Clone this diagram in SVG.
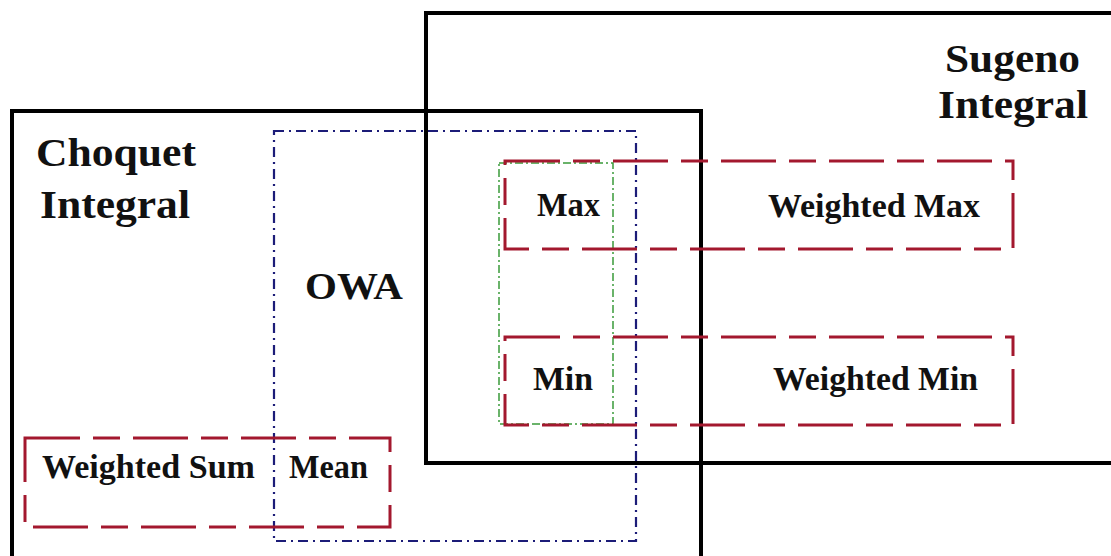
<svg xmlns="http://www.w3.org/2000/svg" width="1111" height="556" viewBox="0 0 1111 556">
<style>
.solid{fill:none;stroke:#000;stroke-width:4}
.owa{fill:none;stroke:#1c1c78;stroke-width:2.2;stroke-dasharray:10 5 2 5}
.grn{fill:none;stroke:#3a9a3a;stroke-width:1.5;stroke-dasharray:8 3 2 3}
.red{fill:none;stroke:#a3182e;stroke-width:3;stroke-dasharray:55 13 27 13}
text{font-family:"Liberation Serif","Times New Roman",serif;font-weight:bold;fill:#111}
.big{font-size:40px}
.mid{font-size:38px}
.sm{font-size:33px}
</style>
<rect width="1111" height="556" fill="#fff"/>
<g id="choquet">
<rect class="solid" x="12" y="111" width="689" height="470"/>
<text class="big" x="36" y="166" textLength="160" lengthAdjust="spacingAndGlyphs">Choquet</text>
<text class="big" x="40" y="218" textLength="150" lengthAdjust="spacingAndGlyphs">Integral</text>
</g>
<g id="sugeno">
<rect class="solid" x="426" y="13" width="720" height="450"/>
<text class="big" x="945" y="72" textLength="135" lengthAdjust="spacingAndGlyphs">Sugeno</text>
<text class="big" x="938" y="118" textLength="150" lengthAdjust="spacingAndGlyphs">Integral</text>
</g>
<g id="owa">
<rect class="owa" x="274" y="131" width="362" height="410"/>
<text class="mid" x="305" y="299" textLength="98" lengthAdjust="spacingAndGlyphs">OWA</text>
</g>
<g id="maxmin">
<rect class="grn" x="499" y="163" width="114" height="261"/>
</g>
<g id="max">
<rect class="red" x="505" y="161" width="508" height="88"/>
<text class="sm" x="537" y="216" textLength="63" lengthAdjust="spacingAndGlyphs">Max</text>
<text class="sm" x="768" y="217" textLength="212" lengthAdjust="spacingAndGlyphs">Weighted Max</text>
</g>
<g id="min">
<rect class="red" x="505" y="337" width="508" height="88"/>
<text class="sm" x="533" y="390" textLength="60" lengthAdjust="spacingAndGlyphs">Min</text>
<text class="sm" x="773" y="390" textLength="205" lengthAdjust="spacingAndGlyphs">Weighted Min</text>
</g>
<g id="sum">
<rect class="red" x="25" y="438" width="365" height="89"/>
<text class="sm" x="42" y="478" textLength="213" lengthAdjust="spacingAndGlyphs">Weighted Sum</text>
<text class="sm" x="289" y="478" textLength="79" lengthAdjust="spacingAndGlyphs">Mean</text>
</g>
<g id="connectors"/>
</svg>
